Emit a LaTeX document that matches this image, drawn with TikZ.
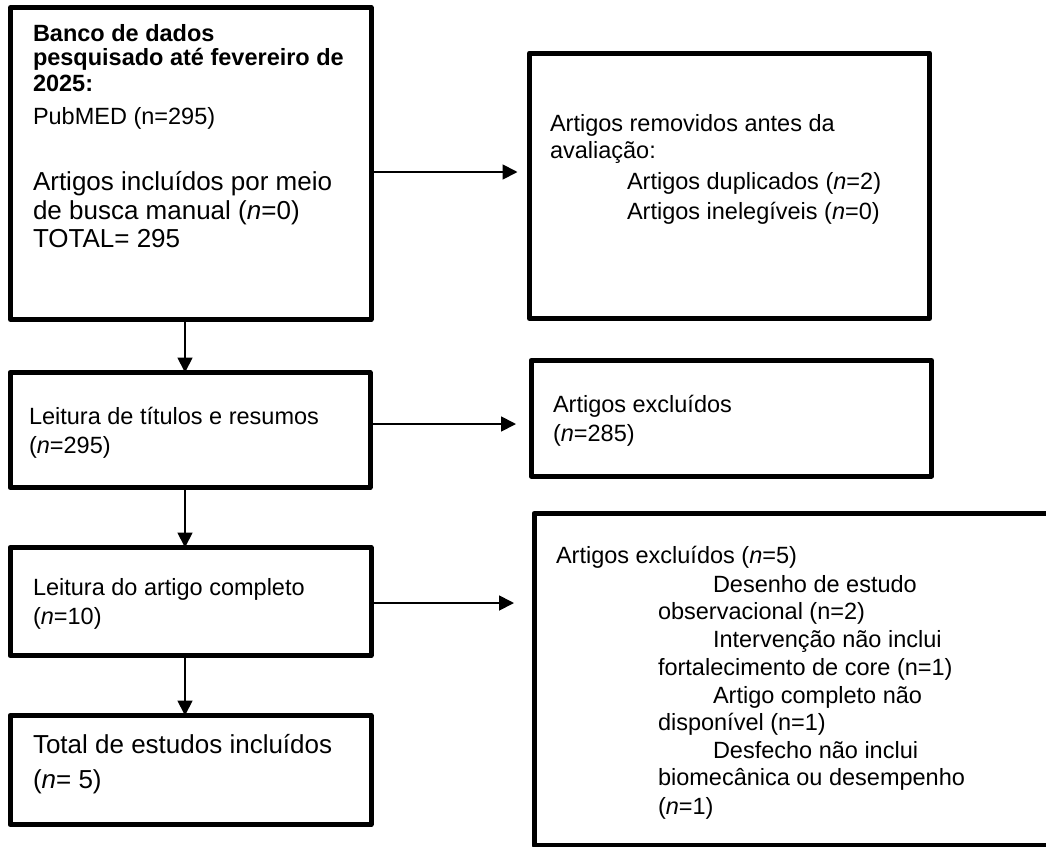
\documentclass[tikz,border=0pt]{standalone}
\usepackage{fontspec}
\setmainfont{Liberation Sans}
\usetikzlibrary{arrows.meta}
\begin{document}
\begin{tikzpicture}[x=1pt,y=-1pt,
  box/.style={draw=black, line width=5pt, line join=round, rectangle, inner sep=0pt, outer sep=0pt},
  arr/.style={draw=black, line width=1.8pt, -{Triangle[length=15pt,width=15pt]}},
  txt/.style={anchor=base west, inner sep=0pt, outer sep=0pt, font=\fontsize{23.5}{28}\selectfont},
  big/.style={txt, font=\fontsize{26}{31}\selectfont},
  bld/.style={txt, font=\fontsize{23.5}{28}\selectfont\bfseries}]
\useasboundingbox (0,0) rectangle (1046,846);
\clip (0,0) rectangle (1046,846);
\fill[white] (0,0) rectangle (1046,846);

% boxes
\node[box, minimum width=360.5pt, minimum height=312pt] (b1) at (190.75,163.5) {};
\node[box, minimum width=400pt, minimum height=265.5pt] (b2) at (729.5,185.75) {};
\node[box, minimum width=360pt, minimum height=115pt] (b3) at (190,430) {};
\node[box, minimum width=400.5pt, minimum height=115.5pt] (b4) at (731.25,418.25) {};
\node[box, minimum width=361pt, minimum height=108pt] (b5) at (190.5,601.5) {};
\node[box, minimum width=361pt, minimum height=109pt] (b6) at (190.5,770) {};
\node[box, minimum width=536pt, minimum height=332pt] (b7) at (802,679.5) {};

% texts box 1
\node[bld] (t1a) at (33,41) {Banco de dados};
\node[bld] (t1b) at (33,65.5) {pesquisado até fevereiro de};
\node[bld] (t1c) at (33,91.5) {2025:};
\node[txt] (t1d) at (33,124) {PubMED (n=295)};
\node[big] (t1e) at (33,190) {Artigos incluídos por meio};
\node[big] (t1f) at (33,219) {de busca manual (\textit{n}=0)};
\node[big] (t1g) at (33,247) {TOTAL= 295};

% texts box 2
\node[txt] (t2a) at (550,131) {Artigos removidos antes da};
\node[txt] (t2b) at (550,158) {avaliação:};
\node[txt] (t2c) at (627,189) {Artigos duplicados (\textit{n}=2)};
\node[txt] (t2d) at (627,219.5) {Artigos inelegíveis (\textit{n}=0)};

% box 3
\node[txt] (t3a) at (29,424) {Leitura de títulos e resumos};
\node[txt] (t3b) at (29,453) {(\textit{n}=295)};

% box 4
\node[txt] (t4a) at (553,412) {Artigos excluídos};
\node[txt] (t4b) at (553,441) {(\textit{n}=285)};

% box 5
\node[txt] (t5a) at (33,595) {Leitura do artigo completo};
\node[txt] (t5b) at (33,624) {(\textit{n}=10)};

% box 6
\node[big] (t6a) at (33,753) {Total de estudos incluídos};
\node[big] (t6b) at (33,788) {(\textit{n}= 5)};

% box 7
\node[txt] (t7a) at (556,563) {Artigos excluídos (\textit{n}=5)};
\node[txt] (t7b) at (713,592) {Desenho de estudo};
\node[txt] (t7c) at (658,619) {observacional (n=2)};
\node[txt] (t7d) at (713,647) {Intervenção não inclui};
\node[txt] (t7e) at (658,675) {fortalecimento de core (n=1)};
\node[txt] (t7f) at (713,703) {Artigo completo não};
\node[txt] (t7g) at (658,730) {disponível (n=1)};
\node[txt] (t7h) at (713,758) {Desfecho não inclui};
\node[txt] (t7i) at (658,785) {biomecânica ou desempenho};
\node[txt] (t7j) at (658,814) {(\textit{n}=1)};

% connectors
\coordinate (ax) at (185,0);
\coordinate (y1) at (0,172);
\coordinate (y2) at (0,424);
\coordinate (y3) at (0,603);
\draw[arr, shorten <=2pt, shorten >=12pt] (b1.east |- y1) -- (b2.west |- y1);
\draw[arr, shorten <=2pt, shorten >=15pt] (b3.east |- y2) -- (b4.west |- y2);
\draw[arr, shorten <=2pt, shorten >=20pt] (b5.east |- y3) -- (b7.west |- y3);
\draw[arr] (b1.south -| ax) -- (b3.north -| ax);
\draw[arr] (b3.south -| ax) -- (b5.north -| ax);
\draw[arr] (b5.south -| ax) -- (b6.north -| ax);
\end{tikzpicture}
\end{document}
